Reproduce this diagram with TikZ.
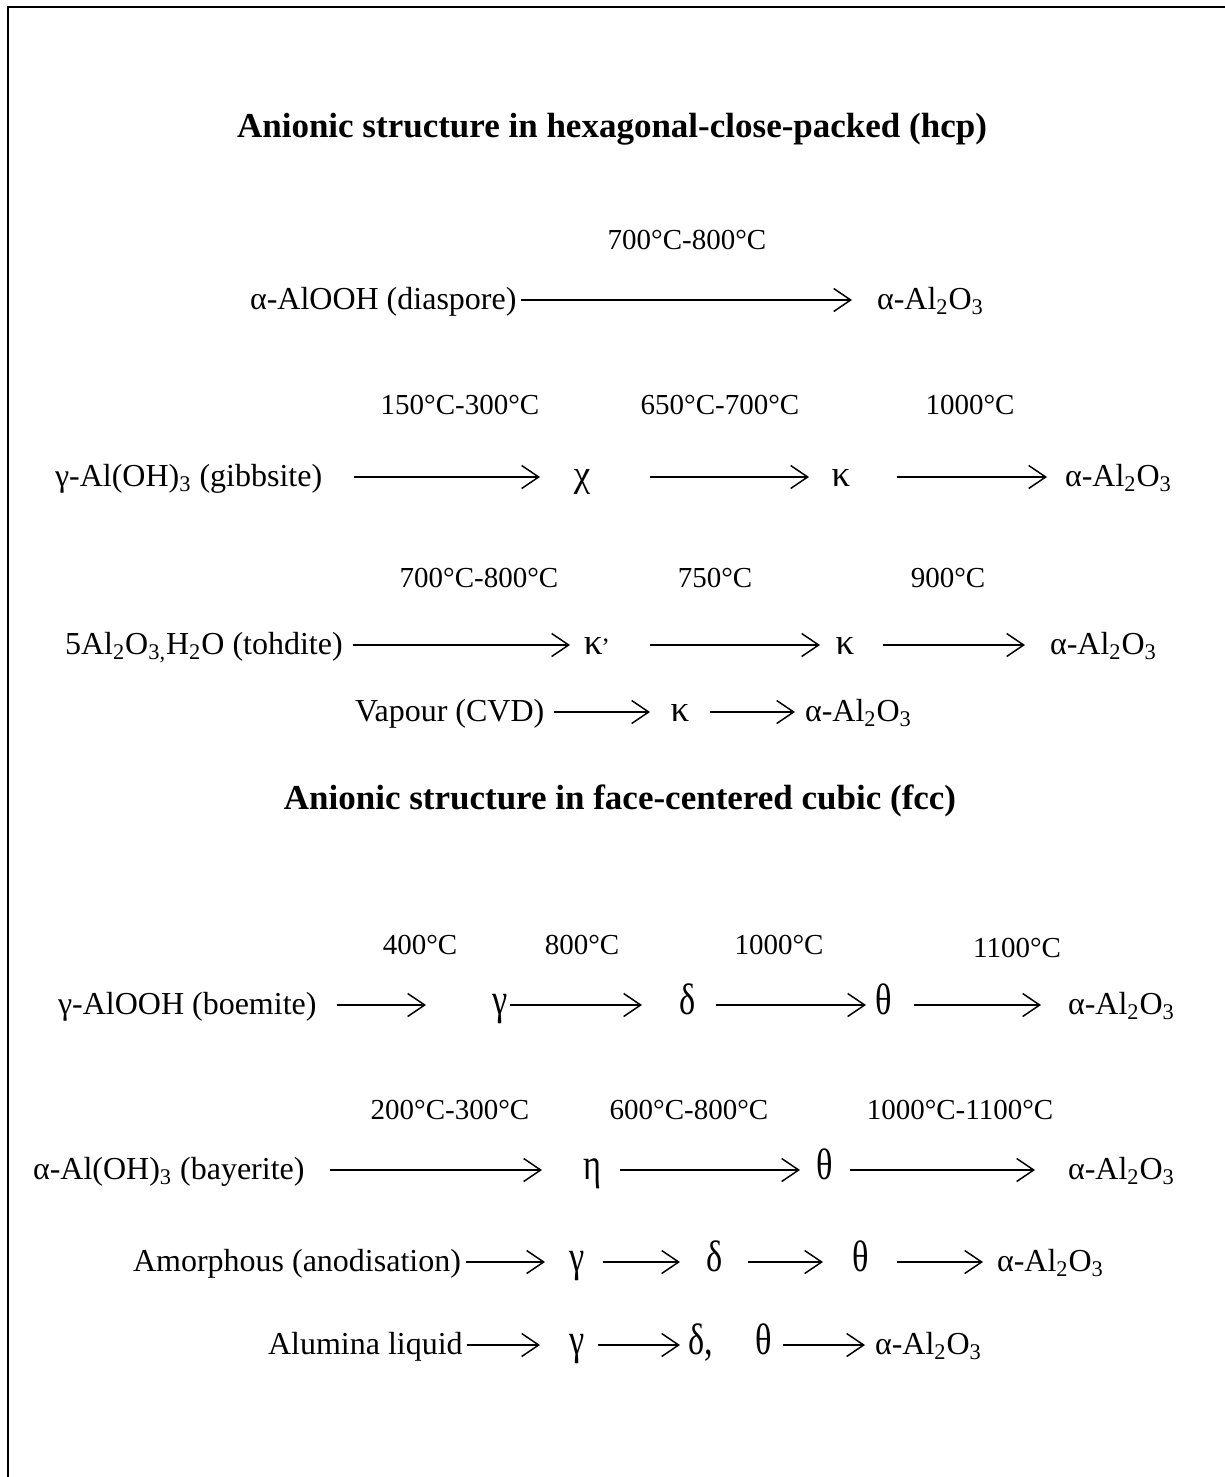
\documentclass[tikz,border=0pt]{standalone}
\usepackage{fontspec}
\setmainfont{Liberation Serif}
\newfontfamily\gknarrow[FakeStretch=0.78]{Liberation Serif}
\usetikzlibrary{arrows.meta}
\tikzset{
  base/.style={inner sep=0pt, outer sep=0pt, text height=13pt, text depth=3.5pt, font=\fontsize{16}{19}\selectfont},
  txt/.style={base, anchor=west},
  lbl/.style={base, anchor=center, font=\fontsize{14.5}{17}\selectfont},
  gk/.style={inner sep=0pt, outer sep=0pt, text height=13pt, text depth=3.5pt, font=\fontsize{18.5}{21}\selectfont, anchor=center},
  gkf/.style={gk, font=\gknarrow\fontsize{22}{25}\selectfont},
  ttl/.style={base, anchor=center, font=\fontsize{17.5}{21}\selectfont\bfseries},
  arr/.style={line width=0.75pt, -{Straight Barb[length=8.5pt,width=11.5pt,line width=0.75pt]}},
  frame/.style={line width=1.3pt}
}
\newcommand{\alo}{α-Al\textsubscript{2}O\textsubscript{3}}
\begin{document}
\begin{tikzpicture}[x=0.5pt,y=-0.5pt]
\useasboundingbox (0,0) rectangle (1225,1477);
\draw[frame] (1225,7) -- (8,7) -- (8,1477);

% ---- hcp ----
\node[ttl] (t1) at (612,128) {Anionic structure in hexagonal-close-packed (hcp)};

\node[lbl] (l2a) at (687,240) {700°C-800°C};
\node[txt] (s2) at (250,300) {α-AlOOH (diaspore)};
\node[txt] (p2) at (877,300) {\alo};
\draw[arr, shorten <=2.5pt, shorten >=12.5pt] (s2.east) -- (p2.west);

\node[lbl] (l3a) at (460,405) {150°C-300°C};
\node[lbl] (l3b) at (720,405) {650°C-700°C};
\node[lbl] (l3c) at (970,405) {1000°C};
\node[txt] (s3) at (55,477) {γ-Al(OH)\textsubscript{3} (gibbsite)};
\node[gk] (c3) at (582,477) {χ};
\node[gk] (k3) at (841,477) {κ};
\node[txt] (p3) at (1065,477) {\alo};
\draw[arr, shorten <=16pt, shorten >=21pt] (s3.east) -- (c3.center);
\draw[arr, shorten <=34pt, shorten >=16pt] (c3.center) -- (k3.center);
\draw[arr, shorten <=28pt, shorten >=9pt] (k3.center) -- (p3.west);

\node[lbl] (l4a) at (479,578) {700°C-800°C};
\node[lbl] (l4b) at (715,578) {750°C};
\node[lbl] (l4c) at (948,578) {900°C};
\node[txt] (s4) at (65,645) {5Al\textsubscript{2}O\textsubscript{3,}H\textsubscript{2}O (tohdite)};
\node[gk] (kp4) at (597,645) {κ\textsuperscript{,}};
\node[gk] (k4) at (845,645) {κ};
\node[txt] (p4) at (1050,645) {\alo};
\draw[arr, shorten <=5pt, shorten >=13.5pt] (s4.east) -- (kp4.center);
\draw[arr, shorten <=26.5pt, shorten >=12.5pt] (kp4.center) -- (k4.center);
\draw[arr, shorten <=19pt, shorten >=12.5pt] (k4.center) -- (p4.west);

\node[txt] (s5) at (355,712) {Vapour (CVD)};
\node[gk] (k5) at (680,712) {κ};
\node[txt] (p5) at (805,712) {\alo};
\draw[arr, shorten <=5pt, shorten >=15pt] (s5.east) -- (k5.center);
\draw[arr, shorten <=15pt, shorten >=5pt] (k5.center) -- (p5.west);

% ---- fcc ----
\node[ttl] (t2) at (620,800) {Anionic structure in face-centered cubic (fcc)};

\node[lbl] (l6a) at (420,945) {400°C};
\node[lbl] (l6b) at (582,945) {800°C};
\node[lbl] (l6c) at (779,945) {1000°C};
\node[lbl] (l6d) at (1017,948) {1100°C};
\node[txt] (s6) at (58,1005) {γ-AlOOH (boemite)};
\node[gkf] (g6) at (500,1005) {γ};
\node[gkf] (d6) at (688,1005) {δ};
\node[gkf] (t6) at (884,1005) {θ};
\node[txt] (p6) at (1068,1005) {\alo};
\draw[arr, shorten <=10pt, shorten >=37pt] (s6.east) -- (g6.center);
\draw[arr, shorten <=5pt, shorten >=23pt] (g6.center) -- (d6.center);
\draw[arr, shorten <=14pt, shorten >=9pt] (d6.center) -- (t6.center);
\draw[arr, shorten <=15pt, shorten >=13.5pt] (t6.center) -- (p6.west);

\node[lbl] (l7a) at (450,1110) {200°C-300°C};
\node[lbl] (l7b) at (689,1110) {600°C-800°C};
\node[lbl] (l7c) at (960,1110) {1000°C-1100°C};
\node[txt] (s7) at (33,1170) {α-Al(OH)\textsubscript{3} (bayerite)};
\node[gkf] (e7) at (592,1170) {η};
\node[gkf] (t7) at (825,1170) {θ};
\node[txt] (p7) at (1068,1170) {\alo};
\draw[arr, shorten <=12.5pt, shorten >=25pt] (s7.east) -- (e7.center);
\draw[arr, shorten <=14pt, shorten >=12.5pt] (e7.center) -- (t7.center);
\draw[arr, shorten <=12.5pt, shorten >=16.5pt] (t7.center) -- (p7.west);

\node[txt] (s8) at (133,1262) {Amorphous (anodisation)};
\node[gkf] (g8) at (577,1262) {γ};
\node[gkf] (d8) at (715,1262) {δ};
\node[gkf] (t8) at (861,1262) {θ};
\node[txt] (p8) at (997,1262) {\alo};
\draw[arr, shorten <=2.5pt, shorten >=16pt] (s8.east) -- (g8.center);
\draw[arr, shorten <=13pt, shorten >=17.5pt] (g8.center) -- (d8.center);
\draw[arr, shorten <=16.5pt, shorten >=19pt] (d8.center) -- (t8.center);
\draw[arr, shorten <=18pt, shorten >=7pt] (t8.center) -- (p8.west);

\node[txt] (s9) at (268,1345) {Alumina liquid};
\node[gkf] (g9) at (577,1345) {γ};
\node[gkf] (d9) at (701,1345) {δ,};
\node[gkf] (t9) at (764,1345) {θ};
\node[txt] (p9) at (875,1345) {\alo};
\draw[arr, shorten <=2pt, shorten >=18.5pt] (s9.east) -- (g9.center);
\draw[arr, shorten <=10.5pt, shorten >=10.5pt] (g9.center) -- (d9.center);
\draw[arr, shorten <=9.5pt, shorten >=5pt] (t9.center) -- (p9.west);
\end{tikzpicture}
\end{document}
